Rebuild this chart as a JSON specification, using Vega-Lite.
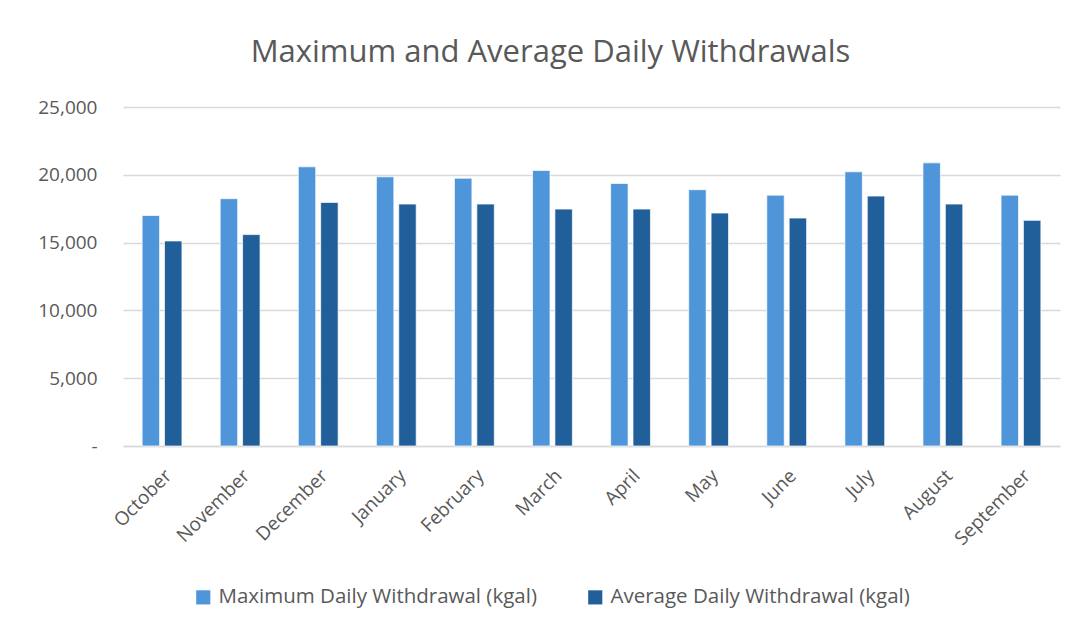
{
  "$schema": "https://vega.github.io/schema/vega-lite/v6.json",
  "width": 937,
  "height": 339,
  "autosize": {"type": "none"},
  "padding": {"left": 123, "top": 107, "right": 18, "bottom": 182},
  "background": "white",
  "title": {
    "text": "Maximum and Average Daily Withdrawals",
    "fontSize": 31,
    "font": "Open Sans",
    "fontWeight": "normal",
    "color": "#595959",
    "anchor": "middle",
    "dx": -41,
    "dy": 11,
    "offset": 40
  },
  "data": {
    "values": [
      {"month": "October", "series": "Maximum Daily Withdrawal (kgal)", "value": 17000},
      {"month": "October", "series": "Average Daily Withdrawal (kgal)", "value": 15120},
      {"month": "November", "series": "Maximum Daily Withdrawal (kgal)", "value": 18240},
      {"month": "November", "series": "Average Daily Withdrawal (kgal)", "value": 15590},
      {"month": "December", "series": "Maximum Daily Withdrawal (kgal)", "value": 20590},
      {"month": "December", "series": "Average Daily Withdrawal (kgal)", "value": 17960},
      {"month": "January", "series": "Maximum Daily Withdrawal (kgal)", "value": 19850},
      {"month": "January", "series": "Average Daily Withdrawal (kgal)", "value": 17840},
      {"month": "February", "series": "Maximum Daily Withdrawal (kgal)", "value": 19750},
      {"month": "February", "series": "Average Daily Withdrawal (kgal)", "value": 17840},
      {"month": "March", "series": "Maximum Daily Withdrawal (kgal)", "value": 20320},
      {"month": "March", "series": "Average Daily Withdrawal (kgal)", "value": 17470},
      {"month": "April", "series": "Maximum Daily Withdrawal (kgal)", "value": 19360},
      {"month": "April", "series": "Average Daily Withdrawal (kgal)", "value": 17470},
      {"month": "May", "series": "Maximum Daily Withdrawal (kgal)", "value": 18900},
      {"month": "May", "series": "Average Daily Withdrawal (kgal)", "value": 17180},
      {"month": "June", "series": "Maximum Daily Withdrawal (kgal)", "value": 18500},
      {"month": "June", "series": "Average Daily Withdrawal (kgal)", "value": 16810},
      {"month": "July", "series": "Maximum Daily Withdrawal (kgal)", "value": 20220},
      {"month": "July", "series": "Average Daily Withdrawal (kgal)", "value": 18430},
      {"month": "August", "series": "Maximum Daily Withdrawal (kgal)", "value": 20880},
      {"month": "August", "series": "Average Daily Withdrawal (kgal)", "value": 17840},
      {"month": "September", "series": "Maximum Daily Withdrawal (kgal)", "value": 18500},
      {"month": "September", "series": "Average Daily Withdrawal (kgal)", "value": 16640}
    ]
  },
  "mark": {"type": "bar", "stroke": "white", "strokeWidth": 0.7},
  "encoding": {
    "x": {
      "field": "month",
      "type": "nominal",
      "sort": ["October","November","December","January","February","March","April","May","June","July","August","September"],
      "scale": {"paddingInner": 0.49, "paddingOuter": 0.245},
      "axis": {
        "title": null,
        "labelAngle": -45,
        "labelFont": "Open Sans",
        "labelFontSize": 19,
        "labelColor": "#595959",
        "ticks": false,
        "labelPadding": 20,
        "domainColor": "#d9d9d9",
        "domainWidth": 1.5,
        "grid": false
      }
    },
    "xOffset": {
      "field": "series",
      "type": "nominal",
      "sort": ["Maximum Daily Withdrawal (kgal)", "Average Daily Withdrawal (kgal)"],
      "scale": {"paddingInner": 0.22, "paddingOuter": 0}
    },
    "y": {
      "field": "value",
      "type": "quantitative",
      "scale": {"domain": [0, 25000], "nice": false},
      "axis": {
        "title": null,
        "values": [0, 5000, 10000, 15000, 20000, 25000],
        "labelExpr": "datum.value == 0 ? '-' : format(datum.value, ',')",
        "labelFont": "Open Sans",
        "labelFontSize": 19,
        "labelColor": "#595959",
        "labelPadding": 26,
        "ticks": false,
        "domain": false,
        "gridColor": "#d9d9d9",
        "gridWidth": 1.5
      }
    },
    "color": {
      "field": "series",
      "type": "nominal",
      "sort": ["Maximum Daily Withdrawal (kgal)", "Average Daily Withdrawal (kgal)"],
      "scale": {"range": ["#4e95d9", "#215f9a"]},
      "legend": {
        "title": null,
        "orient": "none",
        "legendX": 70,
        "legendY": 480,
        "direction": "horizontal",
        "symbolType": "square",
        "symbolSize": 200,
        "symbolStrokeWidth": 0,
        "labelFont": "Open Sans",
        "labelFontSize": 20.5,
        "labelColor": "#595959",
        "labelOffset": 5,
        "columnPadding": 48,
        "labelLimit": 500
      }
    }
  },
  "config": {"view": {"stroke": null}}
}
